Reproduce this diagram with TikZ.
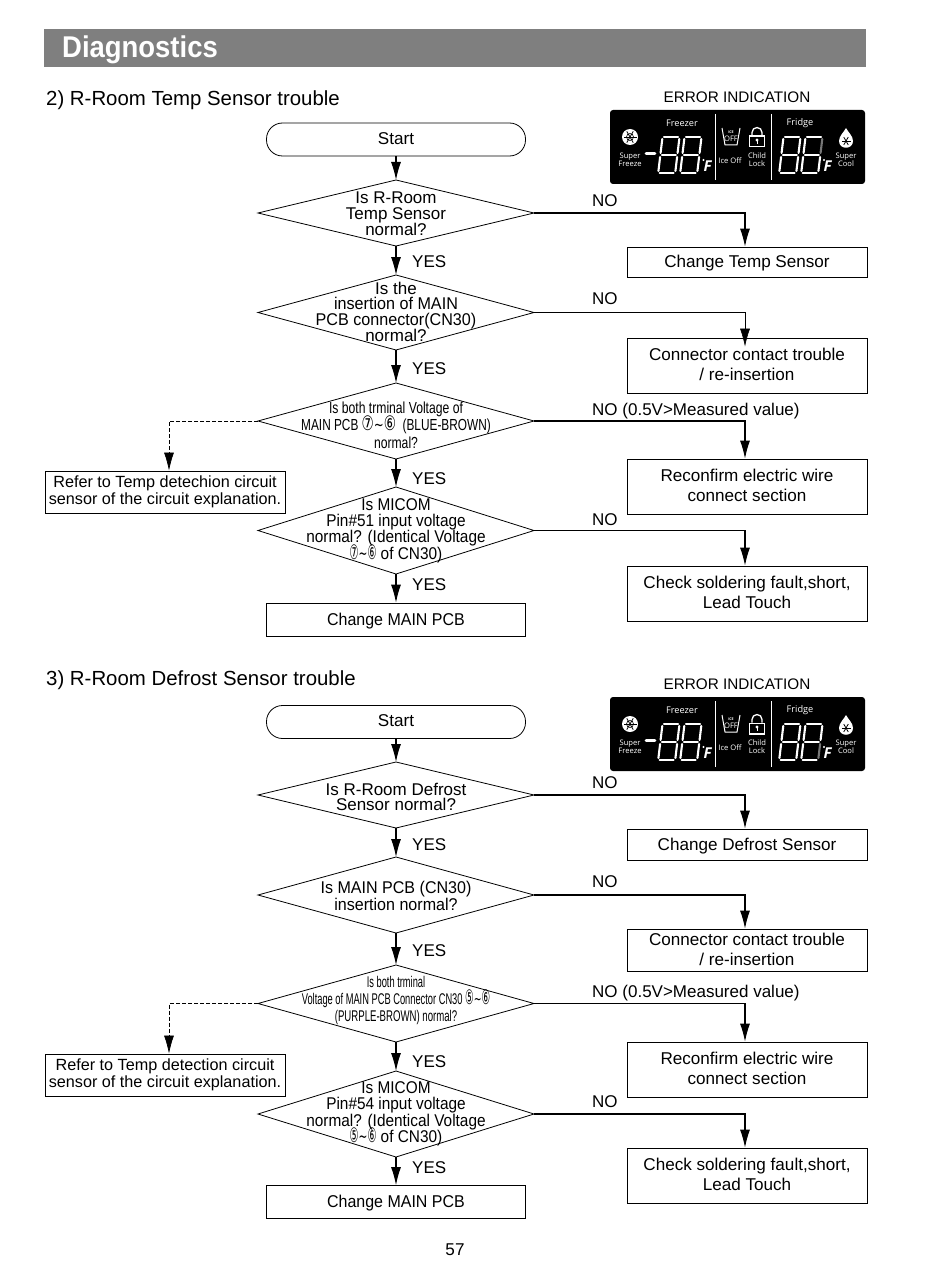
\documentclass[tikz,border=0pt]{standalone}
\usepackage{fontspec}
\setmainfont{Liberation Sans}
\newfontfamily\symfont{DejaVu Sans}
\newfontfamily\panelfont{Open Sans}
\usetikzlibrary{arrows.meta,shapes.geometric,calc}
\definecolor{bandgray}{HTML}{7F7F7F}
\definecolor{seggray}{HTML}{777777}
\tikzset{
    every node/.style={font=\fontsize{17.1}{19.6}\selectfont},
    decision/.style={draw,diamond,inner sep=0pt,outer sep=0pt,line width=0.8pt,minimum width=276pt},
    dtext/.style={align=center,inner sep=0pt,font=\fontsize{17}{15.5}\selectfont},
    startbox/.style={draw,rounded corners=16pt,line width=0.8pt,minimum width=259pt,minimum height=33pt},
    actbox/.style={draw,line width=0.7pt,align=center,minimum width=240pt,text depth=2pt},
    mainbox/.style={actbox,minimum width=259pt,minimum height=33pt,text depth=1pt},
    referbox/.style={draw,line width=0.8pt,align=center,inner sep=0pt,minimum width=240pt,minimum height=42pt,
        font=\fontsize{16.2}{17}\selectfont},
    lab/.style={anchor=west,inner sep=0pt,font=\fontsize{17}{19}\selectfont},
    title/.style={anchor=west,inner sep=0pt,font=\fontsize{20.4}{22}\selectfont},
    flow/.style={line width=1.1pt,-{Latex[length=18pt,width=10pt]}},
    flowdash/.style={flow,dash pattern=on 4pt off 2pt,line width=0.7pt},
    ptext/.style={white,align=center,inner sep=0pt,font=\panelfont\fontsize{7.6}{8}\selectfont},
    seg/.style={line width=2.1pt,line cap=round},
}
\newcommand{\cnum}[2][.5]{\smash{\scalebox{#1}[1]{{\symfont\fontsize{20}{16}\selectfont #2}}}}
\newcommand{\slim}[2]{\scalebox{#1}[1]{#2}}
% one slanted display digit: x, y, colour of upper right, colour of lower right
\newcommand{\dispdigit}[4]{
    \begin{scope}[shift={(#1,#2)},xslant=0.12]
        \draw[seg,white] (2,0) -- (16,0);
        \draw[seg,white] (2,18) -- (16,18);
        \draw[seg,white] (2,36) -- (16,36);
        \draw[seg,white] (0.5,2) -- (0.5,16);
        \draw[seg,white] (0.5,20) -- (0.5,34);
        \draw[seg,#3] (17.5,2) -- (17.5,16);
        \draw[seg,#4] (17.5,20) -- (17.5,34);
    \end{scope}
}
\newcommand{\flake}[3]{
    \foreach \ang in {0,60,120}
        \draw[black,line width=0.8pt] ($(#1,#2)+(\ang:#3)$) -- ($(#1,#2)+(\ang+180:#3)$);
}
% the black display: prefix of names, y offset, the two colours of the last digit
\newcommand{\errpanel}[4]{
    \begin{scope}[shift={(0,#2)}]
        \fill[black,rounded corners=3pt] (610,110) rectangle (865,184);
        \node[ptext] (#1frz) at (682,123.5) {\fontsize{9.2}{10}\selectfont Freezer};
        \node[ptext] (#1frg) at (800,123.5) {\fontsize{9.2}{10}\selectfont Fridge};
        \node[ptext] (#1sf) at (630,160) {Super\\Freeze};
        \node[ptext] (#1io) at (730,161) {Ice Off};
        \node[ptext] (#1cl) at (757,160) {Child\\Lock};
        \node[ptext] (#1sc) at (846,160) {Super\\Cool};
        \draw[white,line width=0.7pt] (715,114) -- (715,180);
        \draw[white,line width=0.7pt] (771.5,114) -- (771.5,180);
        % snow icon
        \fill[white] (630,137) circle (8);
        \flake{630}{137}{6.5}
        \draw[black,line width=0.6pt] (630,137) circle (3.5);
        % cup icon
        \draw[white,line width=1pt] (722,128) -- (725,145) -- (737,145) -- (740,128);
        \node[ptext] (#1ice) at (731,136.5) {\fontsize{3.6}{4.6}\selectfont\bfseries ICE\\OFF};
        % lock icon
        \fill[white] (749,135.5) rectangle (765,147.5);
        \fill[black] (750.3,136.8) rectangle (763.7,146.2);
        \draw[white,line width=1.3pt] (752,135.5) -- (752,132.5) arc (180:360:5) -- (762,135.5);
        \fill[white] (757,140) circle (1.6);
        \draw[white,line width=1pt] (757,140) -- (757,144);
        % drop icon
        \fill[white] (846,128) .. controls (848,132) and (853,136) .. (853,141)
            .. controls (853,150) and (839,150) .. (839,141)
            .. controls (839,136) and (844,132) .. (846,128) -- cycle;
        \flake{846}{141}{4.5}
        % digits
        \draw[seg,white,line width=2.6pt] (646,153.5) -- (655,153.5);
        \dispdigit{662}{137}{white}{white}
        \dispdigit{684}{137}{white}{white}
        \dispdigit{783}{137}{white}{white}
        \dispdigit{805}{137}{#3}{#4}
        \fill[white] (703.5,160) circle (1.2);
        \fill[white] (824,160) circle (1.2);
        \node[ptext] (#1fa) at (707.5,166) {\fontsize{15}{15}\selectfont\bfseries\itshape F};
        \node[ptext] (#1fb) at (827.5,166) {\fontsize{15}{15}\selectfont\bfseries\itshape F};
    \end{scope}
}
\begin{document}
\begin{tikzpicture}[x=1pt,y=-1pt]
    \useasboundingbox (0,0) rectangle (950,1276);
    \fill[white] (0,0) rectangle (950,1276);

    % Header
    \fill[bandgray] (44,29) rectangle (866,67);
    \node[anchor=west,inner sep=0pt,white,font=\bfseries\fontsize{30}{32}\selectfont] (head) at (62,49.5) {\slim{.915}{Diagnostics}};

    % 2) R-Room Temp Sensor
    \node[title] (title2) at (46,100) {2) R-Room Temp Sensor trouble};
    \node[font=\fontsize{15.3}{17}\selectfont] (err2) at (737,97) {ERROR INDICATION};
    \errpanel{a}{0}{seggray}{white}

    \node[startbox] (starta) at (396,139.5) {};
    \node[inner sep=0pt] (startatxt) at (396,138.5) {Start};
    \node[decision,minimum height=66pt] (a1) at (396,213) {};
    \node[dtext] (a1txt) at (396,214) {Is R-Room\\Temp Sensor\\normal?};
    \node[decision,minimum height=75pt] (a2) at (396,312.5) {};
    \node[dtext] (a2txt) at (396,312) {Is the\\\slim{.95}{insertion of MAIN}\\\slim{.95}{PCB connector(CN30)}\\normal?};
    \node[decision,minimum height=76pt] (a3) at (396,421) {};
    \node[dtext,font=\fontsize{16}{17.5}\selectfont] (a3txt) at (396,425) {\slim{.76}{Is both trminal Voltage of}\\
        \slim{.74}{MAIN PCB \cnum[.92]{⑦}{\symfont\char`~}\cnum[.92]{⑥}\ \ (BLUE-BROWN)}\\\slim{.76}{normal?}};
    \node[decision,minimum height=87pt] (a4) at (396,530.5) {};
    \node[dtext,font=\fontsize{17}{16.4}\selectfont] (a4txt) at (396,530.5) {\slim{.905}{Is MICOM}\\\slim{.905}{Pin\#51 input voltage}\\\slim{.905}{normal? (Identical Voltage}\\
        \cnum{⑦}\slim{.62}{{\symfont\char`~}}\cnum{⑥}\slim{.905}{ of CN30)}};
    \node[mainbox] (amain) at (396,619.5) {\slim{.935}{Change MAIN PCB}};

    \node[actbox,minimum height=30pt,text depth=1pt] (a1b) at (747,262) {Change Temp Sensor};
    \node[actbox,minimum height=55pt] (a2b) at (747,365.5) {Connector contact trouble\\/ re-insertion};
    \node[actbox,minimum height=55pt] (a3b) at (747,486.5) {Reconfirm electric wire\\connect section};
    \node[actbox,minimum height=55pt] (a4b) at (747,593.5) {Check soldering fault,short,\\Lead Touch};
    \node[referbox] (a3r) at (165,492) {Refer to Temp detechion circuit\\sensor of the circuit explanation.};

    \draw[flow] (starta) -- (a1);
    \draw[flow] (a1) -- (a2);
    \draw[flow] (a2) -- (a3);
    \draw[flow] (a3) -- (a4);
    \draw[flow] (a4) -- (amain);
    \draw[flow] (a1.east) -| ([xshift=-2]a1b.north);
    \draw[flow,line width=0.6pt] (a2.east) -| ([xshift=-2,yshift=-9]a2b.north);
    \draw[flow] (a3.east) -| ([xshift=-2]a3b.north);
    \draw[flow] (a4.east) -| ([xshift=-2]a4b.north);
    \draw[flowdash] (a3.west) -| ([xshift=4]a3r.north);

    \node[lab] (ano1) at (592,200.5) {NO};
    \node[lab] (ano2) at (592,299) {NO};
    \node[lab] (ano3) at (592,411.5) {NO (0.5V>Measured value)};
    \node[lab] (ano4) at (592,519.5) {NO};
    \node[lab] (ayes1) at (412,261.5) {YES};
    \node[lab] (ayes2) at (412,368.5) {YES};
    \node[lab] (ayes3) at (412,479) {YES};
    \node[lab] (ayes4) at (412,584.5) {YES};

    % 3) R-Room Defrost Sensor
    \node[title] (title3) at (46,680) {3) R-Room Defrost Sensor trouble};
    \node[font=\fontsize{15.3}{17}\selectfont] (err3) at (737,684) {ERROR INDICATION};
    \errpanel{b}{587}{white}{seggray}

    \node[startbox] (startb) at (396,722) {};
    \node[inner sep=0pt] (startbtxt) at (396,721) {Start};
    \node[decision,minimum height=66pt] (b1) at (396,795) {};
    \node[dtext] (b1txt) at (396,797) {Is R-Room Defrost\\Sensor normal?};
    \node[decision,minimum height=76pt] (b2) at (396,895) {};
    \node[dtext,font=\fontsize{17}{17}\selectfont] (b2txt) at (396,896) {\slim{.945}{Is MAIN PCB (CN30)}\\\slim{.945}{insertion normal?}};
    \node[decision,minimum height=77pt] (b3) at (396,1003.5) {};
    \node[dtext,font=\fontsize{15.5}{17}\selectfont] (b3txt) at (396,1000) {\slim{.6}{Is both trminal}\\
        \slim{.6}{Voltage of MAIN PCB Connector CN30 \cnum[.8]{⑤}{\symfont\char`~}\cnum[.8]{⑥}}\\\slim{.62}{(PURPLE-BROWN) normal?}};
    \node[decision,minimum height=86pt] (b4) at (396,1114) {};
    \node[dtext,font=\fontsize{17}{15.8}\selectfont] (b4txt) at (396,1114) {\slim{.905}{Is MICOM}\\\slim{.905}{Pin\#54 input voltage}\\\slim{.905}{normal? (Identical Voltage}\\
        \cnum{⑤}\slim{.62}{{\symfont\char`~}}\cnum{⑥}\slim{.905}{ of CN30)}};
    \node[mainbox] (bmain) at (396,1202) {\slim{.935}{Change MAIN PCB}};

    \node[actbox,minimum height=31pt,text depth=1pt] (b1b) at (747,844.5) {Change Defrost Sensor};
    \node[actbox,minimum height=42pt] (b2b) at (747,950) {Connector contact trouble\\/ re-insertion};
    \node[actbox,minimum height=55pt] (b3b) at (747,1069.5) {Reconfirm electric wire\\connect section};
    \node[actbox,minimum height=55pt] (b4b) at (747,1175.5) {Check soldering fault,short,\\Lead Touch};
    \node[referbox] (b3r) at (165,1075) {Refer to Temp detection circuit\\sensor of the circuit explanation.};

    \draw[flow] (startb) -- (b1);
    \draw[flow] (b1) -- (b2);
    \draw[flow] (b2) -- (b3);
    \draw[flow] (b3) -- (b4);
    \draw[flow] (b4) -- (bmain);
    \draw[flow] (b1.east) -| ([xshift=-2]b1b.north);
    \draw[flow] (b2.east) -| ([xshift=-2]b2b.north);
    \draw[flow] (b3.east) -| ([xshift=-2]b3b.north);
    \draw[flow] (b4.east) -| ([xshift=-2]b4b.north);
    \draw[flowdash] (b3.west) -| ([xshift=4]b3r.north);

    \node[lab] (bno1) at (592,783) {NO};
    \node[lab] (bno2) at (592,881.5) {NO};
    \node[lab] (bno3) at (592,993.5) {NO (0.5V>Measured value)};
    \node[lab] (bno4) at (592,1102) {NO};
    \node[lab] (byes1) at (412,844.5) {YES};
    \node[lab] (byes2) at (412,950.5) {YES};
    \node[lab] (byes3) at (412,1061.5) {YES};
    \node[lab] (byes4) at (412,1167.5) {YES};

    \node (pageno) at (455,1249.5) {57};
\end{tikzpicture}
\end{document}
